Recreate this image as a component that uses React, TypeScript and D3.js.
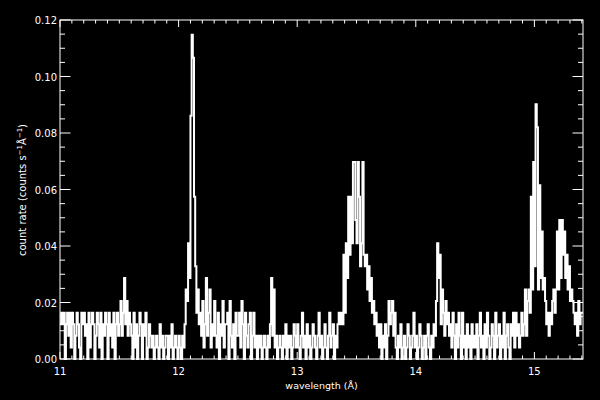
import React from 'react';
import * as d3 from 'd3';

// Spectrum histogram: counts per 0.01 Å bin starting at 11.00 Å
const lambdaStart = 11.0;
const binWidth = 0.01;
const countRateUnit = 0.0041; // counts s^-1 Å^-1 per count in a bin

const counts1100 = [
  3, 4, 3, 4, 0, 3, 4, 2, 4, 1,
  4, 3, 0, 2, 4, 3, 1, 0, 4, 3,
  4, 2, 3, 0, 4, 1, 3, 4, 3, 0,
  2, 4, 3, 1, 4, 0, 3, 2, 4, 3,
  0, 4, 2, 3, 1, 4, 0, 3, 4, 2,
];
const counts1150 = [
  3, 5, 2, 4, 7, 3, 5, 2, 4, 3,
  2, 0, 4, 1, 3, 0, 2, 4, 3, 0,
  3, 2, 4, 0, 1, 3, 2, 1, 2, 0,
  1, 2, 1, 0, 3, 1, 2, 0, 1, 2,
  2, 0, 2, 1, 3, 0, 1, 2, 1, 0,
];
const counts1200 = [
  2, 1, 0, 2, 1, 3, 6, 5, 10, 7,
  21, 28, 26, 14, 8, 4, 6, 3, 4, 2,
  5, 1, 3, 7, 2, 4, 6, 1, 3, 2,
  5, 2, 1, 4, 0, 3, 2, 5, 1, 3,
  3, 4, 0, 5, 2, 1, 3, 0, 4, 2,
];
const counts1250 = [
  2, 4, 1, 5, 3, 0, 4, 2, 1, 3,
  4, 0, 2, 4, 1, 2, 0, 2, 1, 2,
  0, 1, 2, 1, 0, 2, 1, 3, 7, 2,
  6, 1, 2, 0, 1, 2, 1, 0, 2, 1,
  3, 0, 2, 1, 2, 0, 1, 3, 2, 1,
];
const counts1300 = [
  3, 1, 0, 2, 4, 1, 2, 0, 3, 1,
  2, 0, 1, 3, 2, 1, 0, 2, 4, 1,
  2, 0, 1, 3, 1, 0, 2, 4, 1, 2,
  3, 0, 2, 1, 3, 4, 3, 4, 3, 9,
  4, 10, 7, 14, 9, 14, 10, 17, 17, 12,
];
const counts1350 = [
  10, 17, 14, 8, 10, 17, 9, 8, 9, 6,
  8, 5, 7, 4, 5, 3, 4, 2, 3, 1,
  3, 0, 2, 1, 3, 0, 2, 5, 3, 4,
  5, 2, 4, 1, 0, 2, 1, 3, 0, 1,
  2, 0, 1, 3, 2, 0, 1, 2, 4, 1,
];
const counts1400 = [
  2, 0, 1, 3, 2, 0, 1, 2, 0, 2,
  3, 1, 0, 2, 1, 3, 2, 5, 10, 7,
  9, 3, 6, 4, 2, 5, 3, 4, 2, 3,
  1, 4, 2, 0, 3, 1, 4, 2, 0, 4,
  1, 2, 0, 3, 1, 2, 0, 3, 1, 2,
];
const counts1450 = [
  1, 3, 0, 2, 4, 1, 2, 0, 3, 1,
  4, 2, 0, 1, 3, 2, 0, 4, 1, 2,
  3, 0, 2, 1, 4, 0, 2, 3, 1, 0,
  3, 2, 4, 1, 4, 2, 3, 1, 2, 4,
  2, 3, 6, 2, 5, 6, 4, 14, 6, 17,
];
const counts1500 = [
  8, 22, 20, 6, 15, 7, 11, 6, 7, 5,
  3, 4, 2, 4, 3, 5, 6, 4, 6, 11,
  6, 12, 7, 12, 9, 11, 7, 9, 6, 8,
  5, 6, 5, 4, 3, 4, 2, 5, 3, 4,
  4,
];

const xDomain = [11, 15.41];
const yDomain = [0, 0.12];
const xMajorTicks = [11, 12, 13, 14, 15];
const yMajorTicks = [0, 0.02, 0.04, 0.06, 0.08, 0.1, 0.12];
const xMinorStep = 0.1;
const yMinorStep = 0.005;

export default function App() {
  const W = 600;
  const H = 400;
  const L = 60, R = 583, T = 20, B = 359;

  const x = d3.scaleLinear().domain(xDomain).range([L, R]);
  const y = d3.scaleLinear().domain(yDomain).range([B, T]);

  const counts = [
    ...counts1100, ...counts1150, ...counts1200, ...counts1250, ...counts1300,
    ...counts1350, ...counts1400, ...counts1450, ...counts1500,
  ];
  const pts: [number, number][] = counts.map((c, i) => [lambdaStart + i * binWidth, c * countRateUnit]);
  pts.push([lambdaStart + counts.length * binWidth, counts[counts.length - 1] * countRateUnit]);

  const line = d3
    .line<[number, number]>()
    .x((d) => x(d[0]))
    .y((d) => y(d[1]))
    .curve(d3.curveStepAfter);

  const xMinor = d3.range(Math.round(xDomain[0] / xMinorStep), Math.floor(xDomain[1] / xMinorStep + 1e-6) + 1)
    .map((k) => k * xMinorStep)
    .filter((v) => !xMajorTicks.some((t) => Math.abs(t - v) < 1e-6));
  const yMinor = d3.range(0, Math.round(yDomain[1] / yMinorStep) + 1)
    .map((k) => k * yMinorStep)
    .filter((v) => !yMajorTicks.some((t) => Math.abs(t - v) < 1e-9));

  const yMajLen = 10.5, yMinLen = 5;
  const xMajLen = 7, xMinLen = 3.5;
  const font = "'DejaVu Sans', sans-serif";

  const tickLines: React.ReactNode[] = [];
  xMajorTicks.forEach((t, i) => {
    const px = x(t);
    tickLines.push(<line key={`xb${i}`} x1={px} x2={px} y1={B} y2={B - xMajLen} />);
    tickLines.push(<line key={`xt${i}`} x1={px} x2={px} y1={T} y2={T + xMajLen} />);
  });
  xMinor.forEach((t, i) => {
    const px = x(t);
    tickLines.push(<line key={`xbm${i}`} x1={px} x2={px} y1={B} y2={B - xMinLen} />);
    tickLines.push(<line key={`xtm${i}`} x1={px} x2={px} y1={T} y2={T + xMinLen} />);
  });
  yMajorTicks.forEach((t, i) => {
    const py = y(t);
    tickLines.push(<line key={`yl${i}`} x1={L} x2={L + yMajLen} y1={py} y2={py} />);
    tickLines.push(<line key={`yr${i}`} x1={R} x2={R - yMajLen} y1={py} y2={py} />);
  });
  yMinor.forEach((t, i) => {
    const py = y(t);
    tickLines.push(<line key={`ylm${i}`} x1={L} x2={L + yMinLen} y1={py} y2={py} />);
    tickLines.push(<line key={`yrm${i}`} x1={R} x2={R - yMinLen} y1={py} y2={py} />);
  });

  return (
    <svg
      width={W}
      height={H}
      style={{ position: 'fixed', left: 0, top: 0, display: 'block' }}
    >
      <rect x={0} y={0} width={W} height={H} fill="#000" />
      <path d={line(pts) || ''} fill="none" stroke="#fff" strokeWidth={2} />
      <g stroke="#fff" strokeWidth={1}>
        <rect x={L} y={T} width={R - L} height={B - T} fill="none" />
        {tickLines}
      </g>
      <g fill="#fff" fontFamily={font} fontSize={10}>
        {yMajorTicks.map((t, i) => (
          <text key={`yl${i}`} x={L - 3} y={y(t) + 1} textAnchor="end" dominantBaseline="middle">
            {t.toFixed(2)}
          </text>
        ))}
        {xMajorTicks.map((t, i) => (
          <text key={`xl${i}`} x={x(t)} y={B + 16} textAnchor="middle">
            {String(t)}
          </text>
        ))}
        <text x={(L + R) / 2} y={389} textAnchor="middle" fontSize={9.5}>
          wavelength (Å)
        </text>
        <text transform={`translate(26, 190) rotate(-90)`} textAnchor="middle" fontSize={10}>
          <tspan>count rate (counts s</tspan>
          <tspan dy={-4} fontSize={7}>−1</tspan>
          <tspan dy={4}>Å</tspan>
          <tspan dy={-4} fontSize={7}>−1</tspan>
          <tspan dy={4}>)</tspan>
        </text>
      </g>
    </svg>
  );
}
